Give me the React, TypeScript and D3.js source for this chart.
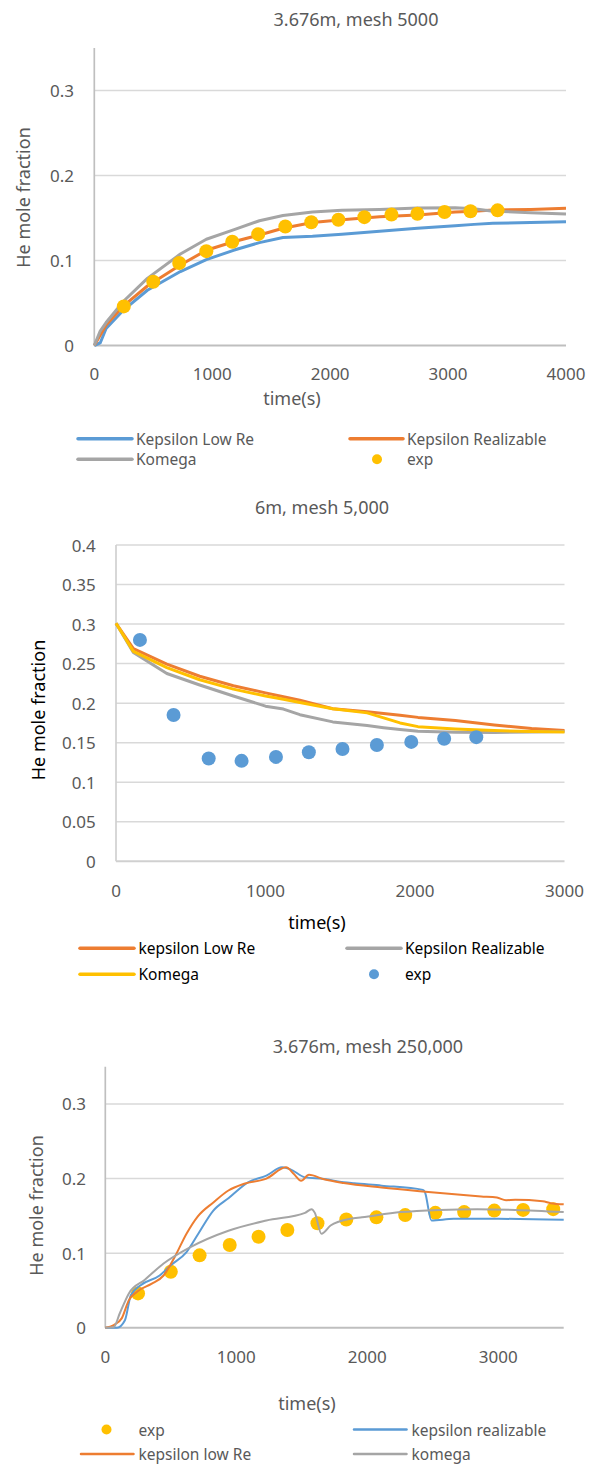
import React from "react";
import * as d3 from "d3";

const BLUE = "#5B9BD5";
const ORANGE = "#ED7D31";
const GRAY = "#A5A5A5";
const GOLD = "#FFC000";
const TEXT = "#595959";
const FONT = "'Noto Sans', 'Open Sans', sans-serif";

// experiment, 3.676 m (shared by chart 1 and chart 3)
const expTime = [250, 500, 720, 950, 1170, 1390, 1620, 1840, 2070, 2290, 2520, 2740, 2970, 3190, 3420];
const expHe = [0.046, 0.075, 0.097, 0.111, 0.122, 0.131, 0.14, 0.145, 0.148, 0.151, 0.154, 0.155, 0.157, 0.158, 0.159];

// chart 1: 3.676m, mesh 5000
const c1Time = [0, 50, 100, 250, 450, 730, 950, 1180, 1400, 1600, 1850, 2100, 2420, 2740, 3060, 3220, 3380, 3700, 4000];
const c1LowRe = [0, 0.003, 0.02, 0.042, 0.065, 0.087, 0.101, 0.112, 0.121, 0.127, 0.1285, 0.131, 0.1345, 0.1378, 0.141, 0.1425, 0.1437, 0.1447, 0.1457];
const c1Realizable = [0, 0.012, 0.024, 0.047, 0.07, 0.0947, 0.112, 0.122, 0.13, 0.138, 0.1448, 0.148, 0.1515, 0.1535, 0.157, 0.158, 0.1594, 0.16, 0.1614];
const c1Komega = [0, 0.017, 0.027, 0.0524, 0.079, 0.1076, 0.125, 0.136, 0.1468, 0.153, 0.157, 0.159, 0.16, 0.1618, 0.162, 0.161, 0.158, 0.1563, 0.1547];
const c1YTicks = [0, 0.1, 0.2, 0.3];
const c1XTicks = [0, 1000, 2000, 3000, 4000];

// chart 2: 6m, mesh 5,000
const c2Time = [0, 116, 340, 560, 785, 1000, 1120, 1230, 1450, 1680, 1790, 1900, 2020, 2270, 2530, 2780, 3000];
const c2LowRe = [0.301, 0.269, 0.2494, 0.234, 0.222, 0.213, 0.208, 0.2038, 0.193, 0.189, 0.187, 0.1848, 0.182, 0.178, 0.1724, 0.168, 0.1653];
const c2Realizable = [0.301, 0.264, 0.2375, 0.223, 0.209, 0.1962, 0.1925, 0.1854, 0.1763, 0.1717, 0.169, 0.1667, 0.1645, 0.1632, 0.1628, 0.1635, 0.164];
const c2Komega = [0.301, 0.2655, 0.245, 0.2296, 0.2177, 0.209, 0.205, 0.2008, 0.193, 0.1877, 0.1814, 0.175, 0.1703, 0.1674, 0.1653, 0.164, 0.1636];
const c2ExpTime = [160, 385, 620, 840, 1070, 1290, 1515, 1745, 1975, 2195, 2410];
const c2ExpHe = [0.28, 0.185, 0.13, 0.127, 0.132, 0.138, 0.142, 0.147, 0.151, 0.155, 0.157];
const c2YTicks = [0, 0.05, 0.1, 0.15, 0.2, 0.25, 0.3, 0.35, 0.4];
const c2XTicks = [0, 1000, 2000, 3000];

// chart 3: 3.676m, mesh 250,000
const c3RealTime = [0, 90, 150, 195, 270, 415, 500, 620, 710, 825, 940, 1090, 1230, 1350, 1410, 1525, 1670, 1820, 1900, 2110, 2425, 2440, 2490, 2660, 3000, 3500];
const c3Real = [0, 0, 0.01, 0.0436, 0.057, 0.07, 0.0837, 0.1015, 0.126, 0.157, 0.1736, 0.195, 0.204, 0.215, 0.2127, 0.2016, 0.1994, 0.195, 0.1936, 0.1905, 0.1848, 0.182, 0.1438, 0.146, 0.146, 0.1446];
const c3LowTime = [0, 65, 125, 180, 240, 355, 445, 530, 620, 705, 825, 940, 1060, 1230, 1380, 1440, 1495, 1555, 1670, 1820, 2110, 2400, 2690, 2870, 2990, 3060, 3130, 3340, 3400, 3500];
const c3Low = [0, 0.0036, 0.0125, 0.037, 0.048, 0.059, 0.07, 0.0948, 0.126, 0.149, 0.168, 0.184, 0.193, 0.2, 0.215, 0.206, 0.197, 0.205, 0.199, 0.194, 0.188, 0.183, 0.1785, 0.176, 0.1745, 0.171, 0.1715, 0.1696, 0.167, 0.1655];
const c3KomTime = [0, 65, 110, 180, 300, 445, 650, 940, 1230, 1525, 1575, 1600, 1650, 1720, 1870, 1960, 2255, 2550, 2840, 3130, 3500];
const c3Kom = [0, 0.001, 0.019, 0.046, 0.064, 0.086, 0.108, 0.13, 0.1437, 0.154, 0.159, 0.154, 0.126, 0.137, 0.146, 0.148, 0.155, 0.158, 0.159, 0.158, 0.155];
const c3YTicks = [0, 0.1, 0.2, 0.3];
const c3XTicks = [0, 1000, 2000, 3000];

const zip = (a: number[], b: number[]) => a.map((v, i) => [v, b[i]] as [number, number]);

type Series = { name: string; dot?: boolean; pts: [number, number][]; color: string; w: number; lx?: number[]; row: number };

type Cfg = {
  title: string; titleX: number; titleY: number;
  xDomain: number[]; xRange: number[]; yDomain: number[]; yRange: number[];
  xTicks: number[]; yTicks: number[]; grid: number[];
  yLabelX: number; xLabelY: number;
  xTitle: [number, number]; yTitle: [number, number]; titleColor: string;
  yAxisColor: string; curve: any; legendRows: number[]; legendColor: string;
  series: Series[];
};

function Chart({ c }: { c: Cfg }) {
  const x = d3.scaleLinear().domain(c.xDomain).range(c.xRange);
  const y = d3.scaleLinear().domain(c.yDomain).range(c.yRange);
  const line = d3.line<[number, number]>().x(d => x(d[0])).y(d => y(d[1])).curve(c.curve);
  const [x0, x1] = c.xRange;
  return (
    <g fontFamily={FONT}>
      <text x={c.titleX} y={c.titleY} textAnchor="middle" dominantBaseline="central" fontSize={18} fill={TEXT}>{c.title}</text>
      {c.grid.map(t => (
        <line key={"g" + t} x1={x0} x2={x1} y1={y(t)} y2={y(t)} stroke="#D9D9D9" strokeWidth={1.5} />
      ))}
      <line x1={x0} x2={x1} y1={y(0)} y2={y(0)} stroke={c.yAxisColor} strokeWidth={2} />
      <line x1={x0} x2={x0} y1={y(0)} y2={y(c.yDomain[1])} stroke={c.yAxisColor} strokeWidth={1.7} />
      {c.yTicks.map(t => (
        <text key={"y" + t} x={c.yLabelX} y={y(t)} textAnchor="end" dominantBaseline="central" fontSize={17} fill={TEXT}>{String(t)}</text>
      ))}
      {c.xTicks.map(t => (
        <text key={"x" + t} x={x(t)} y={c.xLabelY} textAnchor="middle" dominantBaseline="central" fontSize={17} fill={TEXT}>{String(t)}</text>
      ))}
      <text x={c.xTitle[0]} y={c.xTitle[1]} textAnchor="middle" dominantBaseline="central" fontSize={18} fill={c.titleColor}>time(s)</text>
      <text transform={`translate(${c.yTitle[0]},${c.yTitle[1]}) rotate(-90)`} textAnchor="middle" dominantBaseline="central" fontSize={18} fill={c.titleColor}>He mole fraction</text>
      {c.series.map(s =>
        s.dot ? (
          <g key={s.name}>
            {s.pts.map((p, i) => <circle key={i} cx={x(p[0])} cy={y(p[1])} r={7} fill={s.color} />)}
          </g>
        ) : (
          <path key={s.name} d={line(s.pts) || ""} fill="none" stroke={s.color} strokeWidth={s.w} strokeLinejoin="round" />
        )
      )}
      {c.series.map(s => {
        const ly = c.legendRows[s.row];
        const lx = s.lx as number[];
        return (
          <g key={"l" + s.name}>
            {s.dot ? (
              <circle cx={lx[0]} cy={ly} r={5} fill={s.color} />
            ) : (
              <line x1={lx[0]} x2={lx[1]} y1={ly} y2={ly} stroke={s.color} strokeWidth={s.w + 0.5} strokeLinecap="round" />
            )}
            <text x={lx[2]} y={ly} dominantBaseline="central" fontSize={15.5} fill={c.legendColor}>{s.name}</text>
          </g>
        );
      })}
    </g>
  );
}

const chart1: Cfg = {
  title: "3.676m, mesh 5000", titleX: 356, titleY: 18.5,
  xDomain: [0, 4000], xRange: [94.3, 566], yDomain: [0, 0.35], yRange: [345.5, 48],
  xTicks: c1XTicks, yTicks: c1YTicks, grid: [0.1, 0.2, 0.3],
  yLabelX: 74, xLabelY: 373.5, xTitle: [292, 398], yTitle: [23, 197.5], titleColor: TEXT,
  yAxisColor: "#BFBFBF", curve: d3.curveLinear, legendRows: [438.7, 459.3], legendColor: TEXT,
  series: [
    { name: "Kepsilon Low Re", pts: zip(c1Time, c1LowRe), color: BLUE, w: 3, lx: [78, 132, 136], row: 0 },
    { name: "Kepsilon Realizable", pts: zip(c1Time, c1Realizable), color: ORANGE, w: 3, lx: [350, 403, 407], row: 0 },
    { name: "Komega", pts: zip(c1Time, c1Komega), color: GRAY, w: 3, lx: [78, 132, 136], row: 1 },
    { name: "exp", dot: true, pts: zip(expTime, expHe), color: GOLD, w: 0, lx: [377, 0, 407], row: 1 },
  ],
};

const chart2: Cfg = {
  title: "6m, mesh 5,000", titleX: 322, titleY: 506.7,
  xDomain: [0, 3000], xRange: [116, 564.5], yDomain: [0, 0.4], yRange: [861.3, 545],
  xTicks: c2XTicks, yTicks: c2YTicks, grid: [0.05, 0.1, 0.15, 0.2, 0.25, 0.3, 0.35, 0.4],
  yLabelX: 95.7, xLabelY: 890, xTitle: [317, 921.7], yTitle: [38, 710], titleColor: "#000000",
  yAxisColor: "#D0D0D0", curve: d3.curveLinear, legendRows: [948.3, 974.3], legendColor: "#000000",
  series: [
    { name: "kepsilon Low Re", pts: zip(c2Time, c2LowRe), color: ORANGE, w: 3, lx: [80, 134, 138.5], row: 0 },
    { name: "Kepsilon Realizable", pts: zip(c2Time, c2Realizable), color: GRAY, w: 3, lx: [347, 401, 405], row: 0 },
    { name: "Komega", pts: zip(c2Time, c2Komega), color: GOLD, w: 3, lx: [80, 134, 138.5], row: 1 },
    { name: "exp", dot: true, pts: zip(c2ExpTime, c2ExpHe), color: BLUE, w: 0, lx: [374, 0, 405], row: 1 },
  ],
};

const chart3: Cfg = {
  title: "3.676m, mesh 250,000", titleX: 368, titleY: 1045.7,
  xDomain: [0, 3500], xRange: [105.3, 563.7], yDomain: [0, 0.35], yRange: [1327.7, 1066.7],
  xTicks: c3XTicks, yTicks: c3YTicks, grid: [0.1, 0.2, 0.3],
  yLabelX: 86, xLabelY: 1356, xTitle: [307, 1403.3], yTitle: [36.3, 1205.5], titleColor: TEXT,
  yAxisColor: "#BFBFBF", curve: d3.curveMonotoneX, legendRows: [1429.5, 1454], legendColor: TEXT,
  series: [
    { name: "exp", dot: true, pts: zip(expTime, expHe), color: GOLD, w: 0, lx: [106.5, 0, 138.5], row: 0 },
    { name: "kepsilon realizable", pts: zip(c3RealTime, c3Real), color: BLUE, w: 2, lx: [354, 406.5, 411.5], row: 0 },
    { name: "kepsilon low Re", pts: zip(c3LowTime, c3Low), color: ORANGE, w: 2, lx: [81, 133.5, 138.5], row: 1 },
    { name: "komega", pts: zip(c3KomTime, c3Kom), color: GRAY, w: 2, lx: [354, 406.5, 411.5], row: 1 },
  ],
};

export default function App() {
  return (
    <svg width={595} height={1466} style={{ position: "absolute", left: 0, top: 0, background: "#fff" }}>
      <rect width={595} height={1466} fill="#fff" />
      <Chart c={chart1} />
      <Chart c={chart2} />
      <Chart c={chart3} />
    </svg>
  );
}
